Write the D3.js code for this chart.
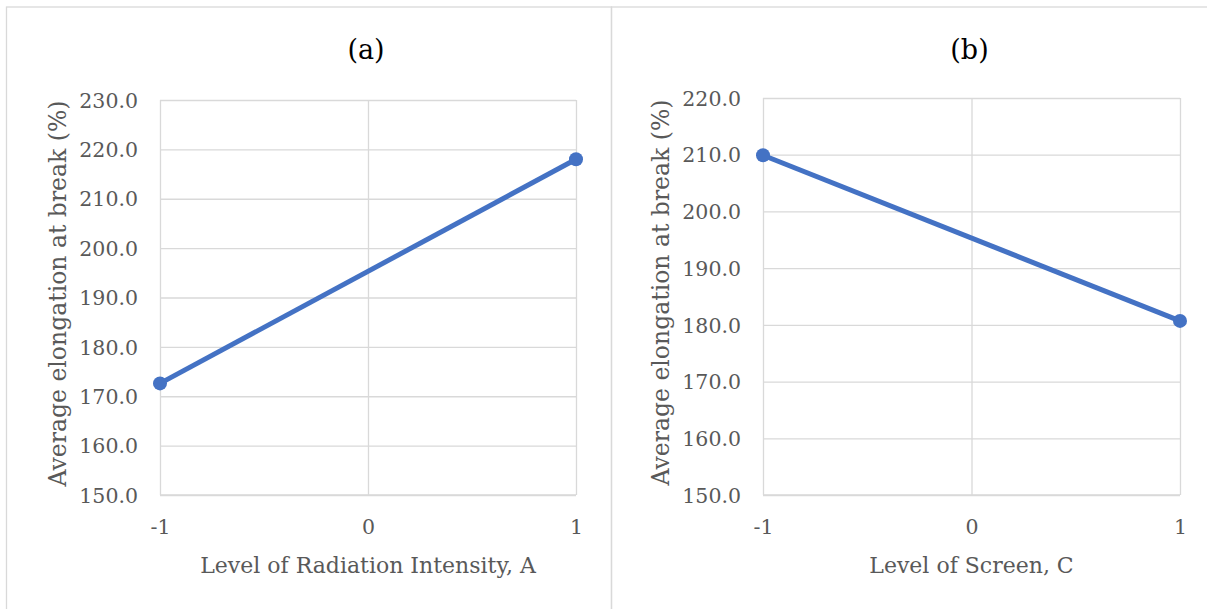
<!DOCTYPE html>
<html>
<head>
<meta charset="utf-8">
<script src="https://cdn.jsdelivr.net/npm/d3@7"></script>
<style>
  body { margin: 0; background: #fff; }
  text { font-family: "DejaVu Serif", serif; fill: #595959; }
</style>
</head>
<body>
<svg id="chart" width="1207" height="609"></svg>
<script>
// factor levels shared by both panels
var levels = [-1, 0, 1];
var xTickLabels = ['-1', '0', '1'];

// panel (a)
var levelsA = [-1, 1];
var elongationA = [172.6, 218.0];
var yTicksA = [150, 160, 170, 180, 190, 200, 210, 220, 230];

// panel (b)
var levelsB = [-1, 1];
var elongationB = [209.9, 180.7];
var yTicksB = [150, 160, 170, 180, 190, 200, 210, 220];

var titles = ['(a)', '(b)'];
var xTitles = ['Level of Radiation Intensity, A', 'Level of Screen, C'];
var yTitle = 'Average elongation at break (%)';

var svg = d3.select('#chart');

var panels = [
  { left: 6.5, width: 605, plot: { x0: 160, x1: 576, y0: 495, y1: 100 },
    xs: levelsA, ys: elongationA, ticks: yTicksA, title: titles[0], xTitle: xTitles[0] },
  { left: 611.5, width: 605, plot: { x0: 763, x1: 1180, y0: 495, y1: 98 },
    xs: levelsB, ys: elongationB, ticks: yTicksB, title: titles[1], xTitle: xTitles[1] }
];

panels.forEach(function (p) {
  var g = svg.append('g');

  // chart frame
  g.append('rect')
    .attr('x', p.left)
    .attr('y', 7)
    .attr('width', p.width)
    .attr('height', 620)
    .attr('fill', 'none')
    .attr('stroke', '#d9d9d9')
    .attr('stroke-width', 1.3);

  var x = d3.scaleLinear().domain([-1, 1]).range([p.plot.x0, p.plot.x1]);
  var y = d3.scaleLinear()
    .domain([d3.min(p.ticks), d3.max(p.ticks)])
    .range([p.plot.y0, p.plot.y1]);

  // horizontal gridlines + y labels
  var yAxis = d3.axisLeft(y)
    .tickValues(p.ticks)
    .tickFormat(d3.format('.1f'))
    .tickSize(-(p.plot.x1 - p.plot.x0))
    .tickPadding(22);

  var yg = g.append('g')
    .attr('transform', 'translate(' + p.plot.x0 + ',0)')
    .call(yAxis);
  yg.select('.domain').remove();
  yg.selectAll('line').attr('stroke', '#d9d9d9').attr('stroke-width', 1.3);
  yg.selectAll('text')
    .style('font-size', '20.5px')
    .attr('fill', '#595959')
    .attr('dy', '0.35em');

  // vertical gridlines + x labels
  var xAxis = d3.axisBottom(x)
    .tickValues(levels)
    .tickFormat(function (d, i) { return xTickLabels[i]; })
    .tickSize(-(p.plot.y0 - p.plot.y1))
    .tickPadding(24);

  var xg = g.append('g')
    .attr('transform', 'translate(0,' + p.plot.y0 + ')')
    .call(xAxis);
  xg.select('.domain').remove();
  xg.selectAll('line').attr('stroke', '#d9d9d9').attr('stroke-width', 1.3);
  xg.selectAll('text')
    .style('font-size', '20.5px')
    .attr('fill', '#595959');

  // bottom axis line
  g.append('line')
    .attr('x1', p.plot.x0).attr('x2', p.plot.x1)
    .attr('y1', p.plot.y0).attr('y2', p.plot.y0)
    .attr('stroke', '#d9d9d9').attr('stroke-width', 1.3);

  // series
  var pts = p.xs.map(function (v, i) { return [v, p.ys[i]]; });
  var line = d3.line()
    .x(function (d) { return x(d[0]); })
    .y(function (d) { return y(d[1]); });

  g.append('path')
    .datum(pts)
    .attr('d', line)
    .attr('fill', 'none')
    .attr('stroke', '#4472c4')
    .attr('stroke-width', 5);

  g.selectAll('circle.pt')
    .data(pts)
    .enter()
    .append('circle')
    .attr('class', 'pt')
    .attr('cx', function (d) { return x(d[0]); })
    .attr('cy', function (d) { return y(d[1]); })
    .attr('r', 7)
    .attr('fill', '#4472c4');

  var cx = (p.plot.x0 + p.plot.x1) / 2;

  // titles
  g.append('text')
    .attr('x', cx - 2)
    .attr('y', 59)
    .attr('text-anchor', 'middle')
    .style('font-size', '27px')
    .style('fill', '#000')
    .text(p.title);

  g.append('text')
    .attr('x', cx)
    .attr('y', 573)
    .attr('text-anchor', 'middle')
    .style('font-size', '22px')
    .text(p.xTitle);

  g.append('text')
    .attr('transform', 'translate(' + (p.plot.x0 - 94) + ',' + ((p.plot.y0 + p.plot.y1) / 2 - 4) + ') rotate(-90)')
    .attr('text-anchor', 'middle')
    .style('font-size', '23.5px')
    .text(yTitle);
});
</script>
</body>
</html>
